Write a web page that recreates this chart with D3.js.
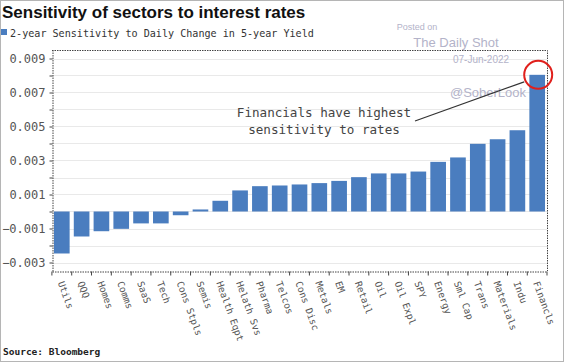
<!DOCTYPE html>
<html>
<head>
<meta charset="utf-8">
<script src="https://cdn.jsdelivr.net/npm/d3@7"></script>
<style>
  body { margin: 0; background: #fff; }
  svg { display: block; }
  .axis text { font-family: "DejaVu Sans Mono", monospace; fill: #555; }
  .axis .domain { stroke: #444; stroke-dasharray: 1.5,1; }
  .axis .tick line { stroke: #444; }
</style>
</head>
<body>
<div id="chart"></div>
<script>
var sectors = ["Utils", "QQQ", "Homes", "Comms", "SaaS", "Tech", "Cons Stpls", "Semis",
  "Health Eqpt", "Helath Svs", "Pharma", "Telcos", "Cons Disc", "Metals", "EM", "Retail",
  "Oil", "Oil Expl", "SPY", "Energy", "Sml Cap", "Trans", "Materials", "Indu", "Financls"];

var sensitivity = [-0.00247, -0.00147, -0.00116, -0.00102, -0.00070, -0.00070, -0.00022, 0.00012,
  0.00063, 0.00124, 0.00149, 0.00153, 0.00159, 0.00167, 0.00180, 0.00202,
  0.00224, 0.00224, 0.00235, 0.00292, 0.00318, 0.00398, 0.00425, 0.00478, 0.00804];

var yTickValues = [-0.003, -0.002, -0.001, 0, 0.001, 0.002, 0.003, 0.004, 0.005, 0.006, 0.007, 0.008, 0.009];
var yLabelValues = [-0.003, -0.001, 0.001, 0.003, 0.005, 0.007, 0.009];

var W = 564, H = 362;
var plot = {left: 52, right: 547, top: 50, bottom: 271};

var svg = d3.select("#chart").append("svg")
    .attr("width", W)
    .attr("height", H);

// outer border
svg.append("rect")
    .attr("x", 0.5).attr("y", 0.5)
    .attr("width", W - 1).attr("height", H - 1)
    .attr("fill", "none")
    .attr("stroke", "#b5b5b5");

var xScale = d3.scaleBand()
    .domain(sectors)
    .range([plot.left, plot.right])
    .paddingInner(0.21)
    .paddingOuter(0.1);

var yScale = d3.scaleLinear()
    .domain([-0.0035, 0.0095])
    .range([plot.bottom, plot.top]);

// grid
svg.append("g").selectAll("line")
    .data(yTickValues)
    .enter().append("line")
    .attr("x1", plot.left).attr("x2", plot.right)
    .attr("y1", function(d) { return Math.round(yScale(d)) + 0.5; })
    .attr("y2", function(d) { return Math.round(yScale(d)) + 0.5; })
    .attr("stroke", "#e9e9e9");

// bars
svg.append("g").selectAll(".bars")
    .data(sensitivity)
  .enter().append("rect")
    .attr("class", "bars")
    .attr("x", function(d, i) { return xScale(sectors[i]); })
    .attr("width", xScale.bandwidth())
    .attr("y", function(d) { return yScale(Math.max(0, d)); })
    .attr("height", function(d) { return Math.abs(yScale(d) - yScale(0)); })
    .attr("fill", "#4a7dbf");

// frame top + right (dotted)
svg.append("path")
    .attr("d", "M" + plot.left + "," + (plot.top + 0.5) + "H" + (plot.right + 0.5) + "V" + plot.bottom)
    .attr("fill", "none")
    .attr("stroke", "#444")
    .attr("stroke-dasharray", "1.5,1");

// y axis
var yAxis = svg.append("g")
    .attr("class", "axis y--axis")
    .attr("transform", "translate(" + (plot.left + 0.5) + ",0)")
    .call(d3.axisLeft(yScale)
      .tickValues(yTickValues)
      .tickSize(3)
      .tickSizeOuter(0)
      .tickFormat(function(d) {
        return yLabelValues.some(function(v) { return Math.abs(v - d) < 1e-9; }) ? d3.format(".3f")(d) : "";
      }));
yAxis.selectAll("text")
    .style("font-size", "12px")
    .attr("x", -7);

// x axis
var xAxis = svg.append("g")
    .attr("class", "axis x--axis")
    .attr("transform", "translate(0," + (plot.bottom + 0.5) + ")")
    .call(d3.axisBottom(xScale).tickSize(4).tickSizeOuter(0));
xAxis.selectAll(".tick line")
    .attr("transform", "translate(" + (-xScale.step() / 2) + ",0)");
xAxis.selectAll("text")
    .style("font-size", "9.5px")
    .style("text-anchor", "start")
    .attr("x", 0)
    .attr("y", 0)
    .attr("dy", "0.35em")
    .attr("transform", "translate(-1,10) rotate(70)");
// closing tick at right end
xAxis.append("line")
    .attr("x1", plot.right).attr("x2", plot.right)
    .attr("y1", 0).attr("y2", 4)
    .attr("stroke", "#444");

// title + legend
svg.append("text")
    .attr("x", 2).attr("y", 18)
    .style("font-family", "Liberation Sans, Arial, sans-serif")
    .style("font-weight", "bold")
    .style("font-size", "17px")
    .attr("fill", "#111")
    .text("Sensitivity of sectors to interest rates");

svg.append("rect")
    .attr("x", 1).attr("y", 29)
    .attr("width", 6).attr("height", 6)
    .attr("fill", "#4a7dbf");
svg.append("text")
    .attr("x", 10).attr("y", 37)
    .style("font-family", "DejaVu Sans Mono, monospace")
    .style("font-size", "10.1px")
    .attr("fill", "#333")
    .text("2-year Sensitivity to Daily Change in 5-year Yield");

// watermark
var wm = [
  {t: "Posted on", x: 417, y: 30, s: 9},
  {t: "The Daily Shot", x: 456, y: 47, s: 13},
  {t: "07-Jun-2022", x: 481, y: 63, s: 10},
  {t: "@SoberLook", x: 488, y: 97, s: 13}
];
svg.append("g").selectAll("text")
    .data(wm)
    .enter().append("text")
    .attr("x", function(d) { return d.x; })
    .attr("y", function(d) { return d.y; })
    .attr("text-anchor", "middle")
    .style("font-family", "Liberation Sans, Arial, sans-serif")
    .style("font-size", function(d) { return d.s + "px"; })
    .attr("fill", "#b3b3c9")
    .text(function(d) { return d.t; });

// annotation
var lastBar = sectors[sectors.length - 1];
var cx = xScale(lastBar) + xScale.bandwidth() / 2,
    cy = yScale(sensitivity[sensitivity.length - 1]);
svg.append("line")
    .attr("x1", 415).attr("y1", 121)
    .attr("x2", cx - 13).attr("y2", cy + 7)
    .attr("stroke", "#333")
    .attr("stroke-width", 1.2);
svg.append("circle")
    .attr("cx", cx + 1).attr("cy", cy)
    .attr("r", 14)
    .attr("fill", "none")
    .attr("stroke", "#e0201c")
    .attr("stroke-width", 2);
var ann = svg.append("text")
    .attr("text-anchor", "middle")
    .style("font-family", "DejaVu Sans Mono, monospace")
    .style("font-size", "12.6px")
    .attr("fill", "#444");
ann.append("tspan").attr("x", 324).attr("y", 117).text("Financials have highest");
ann.append("tspan").attr("x", 324).attr("y", 134).text("sensitivity to rates");

// source
svg.append("text")
    .attr("x", 3).attr("y", 355)
    .style("font-family", "DejaVu Sans Mono, monospace")
    .style("font-weight", "bold")
    .style("font-size", "9.5px")
    .attr("fill", "#222")
    .text("Source: Bloomberg");
</script>
</body>
</html>
